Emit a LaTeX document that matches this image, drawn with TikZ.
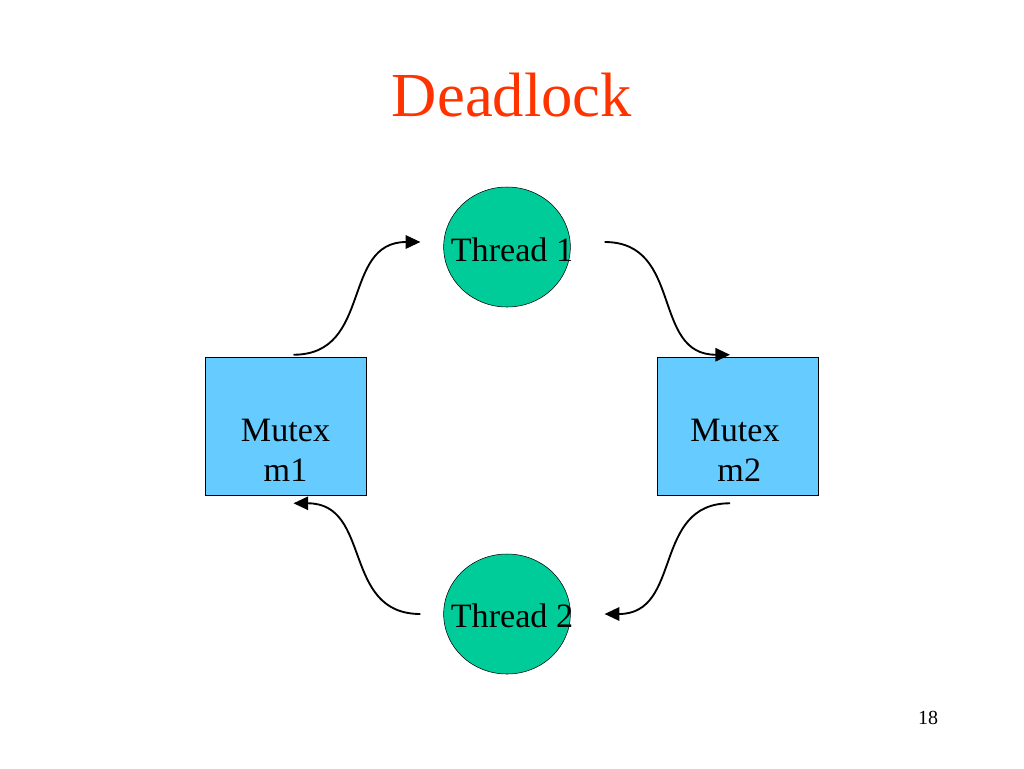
\documentclass[tikz,border=0pt]{standalone}
\usepackage{fontspec}
\setmainfont{Liberation Serif}
\usetikzlibrary{shapes.geometric,arrows.meta,calc}

\definecolor{titlered}{RGB}{255,51,0}
\definecolor{threadgreen}{RGB}{0,204,153}
\definecolor{mutexblue}{RGB}{102,204,255}

\begin{document}
\begin{tikzpicture}[x=0.75pt,y=-0.75pt]
        \tikzstyle{thread}=[ellipse, draw, fill=threadgreen, minimum width=95pt, minimum height=90pt, inner sep=0pt]
        \tikzstyle{mutex}=[rectangle, draw, fill=mutexblue, minimum width=121pt, minimum height=103.5pt]
        \tikzstyle{label text}=[font=\fontsize{25.6}{30}\selectfont, align=center, inner sep=0pt]
        \tikzstyle{flow}=[-{Triangle[length=11pt,width=10pt]}, line width=1.4pt]

        \useasboundingbox (0,0) rectangle (1024,768);

        \node (title) at (512,95) [font=\fontsize{47}{56}\selectfont, text=titlered] {Deadlock};

        \node (t1) at (507,247) [thread] {};
        \node (t2) at (507,614) [thread] {};
        \node (m1) at (285.5,426) [mutex] {};
        \node (m2) at (738,426) [mutex] {};

        \node (t1 text) at (512,250) [label text] {Thread 1};
        \node (t2 text) at (512,616) [label text] {Thread 2};
        \node (m1 text) at (285.5,450) [label text] {Mutex\\m1};
        \node (m2 text) at (735,450) [label text] {Mutex\\\ m2};

        \node (page) at (928,718) [font=\fontsize{15}{18}\selectfont] {18};

        \draw[flow] ($(m1.north)+(8,-2)$) to[out=0, in=180, looseness=1.2] ($(t1.west)+(-23,-5)$);
        \draw[flow] ($(t1.east)+(34,-5)$) to[out=0, in=180, looseness=1.2] ($(m2.north)+(-8,-2)$);
        \draw[flow] ($(m2.south)+(-8,8)$) to[out=180, in=0, looseness=1.2] ($(t2.east)+(34,0)$);
        \draw[flow] ($(t2.west)+(-23,0)$) to[out=180, in=0, looseness=1.2] ($(m1.south)+(8,8)$);

    \end{tikzpicture}
\end{document}
